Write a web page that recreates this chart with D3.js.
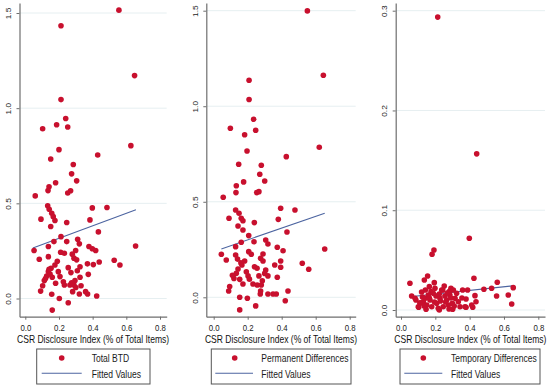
<!DOCTYPE html>
<html>
<head>
<meta charset="utf-8">
<script src="https://cdn.jsdelivr.net/npm/d3@7"></script>
<style>
  html, body { margin: 0; padding: 0; background: #fff; }
  svg { display: block; }
  text { font-family: "Liberation Sans", Arial, Helvetica, sans-serif; }
</style>
</head>
<body>
<svg id="chart" width="550" height="387"></svg>
<script>
// ---------------- DATA ----------------
const xTickValues = [0, 0.2, 0.4, 0.6, 0.8];
const yTickValues12 = [0, 0.5, 1.0, 1.5];
const yTickValues3 = [0, 0.1, 0.2, 0.3];
const xAxisTitle = "CSR Disclosure Index (% of Total Items)";
const seriesNames = ["Total BTD", "Permanent Differences", "Temporary Differences"];
const fitName = "Fitted Values";

// Panel 1: Total BTD
const totalX = [0.556,0.212,0.649,0.212,0.240,0.186,0.252,0.103,0.627,0.200,0.430,0.151,0.285,0.275,0.305,0.180,0.141,0.135,0.269,0.252,
  0.059,0.133,0.142,0.398,0.485,0.157,0.166,0.093,0.176,0.384,0.246,0.151,0.434,0.212,0.311,0.170,0.246,0.321,0.137,0.378,
  0.398,0.418,0.655,0.052,0.210,0.232,0.299,0.279,0.137,0.289,0.083,0.305,0.528,0.439,0.190,0.562,0.369,0.404,0.325,0.176,
  0.153,0.255,0.137,0.309,0.196,0.271,0.374,0.127,0.160,0.206,0.325,0.113,0.295,0.180,0.103,0.232,0.265,0.289,0.331,0.091,
  0.281,0.358,0.370,0.321,0.157,0.424,0.202,0.255,0.160,0.141,0.226,0.275,0.300,0.147,0.120];
const totalY = [1.515,1.433,1.171,1.045,0.946,0.913,0.901,0.892,0.803,0.782,0.754,0.733,0.704,0.655,0.618,0.608,0.587,0.567,0.566,0.554,
  0.539,0.487,0.469,0.476,0.478,0.448,0.430,0.417,0.410,0.413,0.399,0.378,0.350,0.325,0.311,0.299,0.299,0.287,0.273,0.273,
  0.261,0.252,0.276,0.252,0.243,0.238,0.252,0.233,0.220,0.212,0.206,0.203,0.201,0.192,0.196,0.176,0.182,0.178,0.167,0.176,
  0.159,0.162,0.141,0.146,0.141,0.136,0.127,0.118,0.112,0.115,0.112,0.094,0.094,0.080,0.067,0.071,0.071,0.071,0.067,0.039,
  0.036,0.036,0.024,0.024,0.022,0.013,0.000,-0.022,-0.061,0.154,0.088,0.083,0.058,0.128,0.105];
const totalFitX = [0.045, 0.657];
const totalFitY = [0.265, 0.466];

// Panel 2: Permanent Differences
const permX = [0.551,0.645,0.208,0.208,0.235,0.098,0.247,0.182,0.621,0.196,0.427,0.147,0.280,0.271,0.300,0.176,0.133,0.131,0.253,0.266,
  0.056,0.129,0.149,0.394,0.478,0.090,0.162,0.172,0.380,0.239,0.143,0.172,0.431,0.206,0.306,0.237,0.162,0.319,0.129,0.374,
  0.408,0.653,0.045,0.206,0.221,0.290,0.129,0.074,0.276,0.290,0.394,0.182,0.521,0.359,0.394,0.166,0.255,0.559,0.143,0.306,
  0.300,0.133,0.192,0.319,0.374,0.266,0.119,0.153,0.202,0.286,0.094,0.231,0.256,0.280,0.172,0.088,0.276,0.437,0.274,0.319,
  0.349,0.368,0.153,0.198,0.421,0.247,0.153,0.110,0.160,0.210,0.240,0.140];
const permY = [1.499,1.162,1.136,1.035,0.932,0.885,0.874,0.851,0.785,0.766,0.736,0.696,0.691,0.644,0.609,0.604,0.584,0.548,0.548,0.553,
  0.524,0.457,0.440,0.466,0.457,0.414,0.414,0.401,0.408,0.391,0.373,0.352,0.342,0.323,0.300,0.291,0.288,0.279,0.265,0.262,
  0.244,0.253,0.225,0.239,0.225,0.227,0.221,0.195,0.204,0.190,0.190,0.190,0.178,0.169,0.157,0.169,0.152,0.147,0.148,0.143,
  0.125,0.126,0.134,0.112,0.105,0.112,0.099,0.094,0.112,0.087,0.056,0.070,0.064,0.064,0.070,0.033,0.033,0.033,0.017,0.017,
  0.017,0.017,0.000,-0.005,-0.018,-0.045,-0.066,0.115,0.180,0.095,0.160,0.200];
const permFitX = [0.045, 0.653];
const permFitY = [0.253, 0.440];

// Panel 3: Temporary Differences
const tempX = [0.214,0.441,0.398,0.192,0.181,0.052,0.425,0.561,0.528,0.483,0.654,0.557,0.625,0.645,0.431,0.062,0.155,0.136,0.194,0.252,
  0.243,0.165,0.142,0.175,0.291,0.281,0.359,0.388,0.379,0.437,0.223,0.204,0.087,0.111,0.103,0.146,0.223,0.301,0.418,0.379,
  0.082,0.130,0.150,0.169,0.188,0.208,0.227,0.246,0.266,0.285,0.299,0.315,0.276,0.334,0.373,0.412,0.179,0.101,0.140,0.198,
  0.237,0.305,0.159,0.256,0.324,0.111,0.217,0.344,0.120,0.260,0.290,0.195,0.125,0.230,0.270,0.310,0.165,0.355,0.135,0.280];
const tempY = [0.2936,0.1565,0.0719,0.0602,0.0559,0.0268,0.0318,0.0278,0.0218,0.0208,0.0224,0.0140,0.0150,0.0060,0.0144,0.0140,0.0341,0.0301,0.0274,0.0241,
  0.0201,0.0234,0.0201,0.0184,0.0218,0.0184,0.0201,0.0201,0.0110,0.0083,0.0160,0.0140,0.0100,0.0073,0.0027,0.0007,0.0000,0.0007,0.0027,0.0027,
  0.0117,0.0083,0.0050,0.0100,0.0167,0.0067,0.0117,0.0033,0.0100,0.0150,0.0067,0.0117,0.0050,0.0083,0.0033,0.0050,0.0033,0.0033,0.0117,0.0218,
  0.0200,0.0200,0.0150,0.0140,0.0167,0.0067,0.0017,0.0033,0.0180,0.0080,0.0120,0.0080,0.0130,0.0090,0.0170,0.0040,0.0120,0.0120,0.0040,0.0010];
const tempFitX = [0.052, 0.660];
const tempFitY = [0.0133, 0.0244];

// ---------------- LAYOUT ----------------
const panels = [
  { xs: totalX, ys: totalY, fx: totalFitX, fy: totalFitY, name: seriesNames[0], yTicks: yTickValues12,
    axisX: 19.5, right: 166.7, x0px: 25.3, x8px: 160.0, y0px: 298.5, yTopTickPx: 13.0,
    legX: 36.7, legW: 113.3, dotDx: 25, lineDx: [5, 45], textDx: 55 },
  { xs: permX, ys: permY, fx: permFitX, fy: permFitY, name: seriesNames[1], yTicks: yTickValues12,
    axisX: 206.3, right: 355.7, x0px: 213.7, x8px: 349.7, y0px: 297.3, yTopTickPx: 10.7,
    legX: 211.3, legW: 139.7, dotDx: 23.4, lineDx: [4, 41.7], textDx: 50 },
  { xs: tempX, ys: tempY, fx: tempFitX, fy: tempFitY, name: seriesNames[2], yTicks: yTickValues3,
    axisX: 395.7, right: 545.0, x0px: 401.0, x8px: 538.3, y0px: 310.0, yTopTickPx: 10.7,
    legX: 400.0, legW: 140.0, dotDx: 23.3, lineDx: [4.3, 42.3], textDx: 51 }
];
const plotTop = 3, plotBottom = 316.7;
const dotColor = "#c8102e", fitColor = "#4c64a0", axisColor = "#6e6e6e", gridColor = "#e6eff1", textColor = "#1a1a1a";

const svg = d3.select("#chart");

panels.forEach(p => {
  const g = svg.append("g");
  const xs0 = d3.scaleLinear().domain([0, 0.8]).range([p.x0px, p.x8px]);
  const x = d3.scaleLinear().domain([xs0.invert(p.axisX), xs0.invert(p.right)]).range([p.axisX, p.right]);
  const yTop = p.yTicks[p.yTicks.length - 1];
  const ys0 = d3.scaleLinear().domain([0, yTop]).range([p.y0px, p.yTopTickPx]);
  const y = d3.scaleLinear().domain([ys0.invert(plotBottom), ys0.invert(plotTop)]).range([plotBottom, plotTop]);

  // gridlines
  g.append("g").selectAll("line").data(p.yTicks).join("line")
    .attr("x1", p.axisX).attr("x2", p.right)
    .attr("y1", d => y(d)).attr("y2", d => y(d))
    .attr("stroke", gridColor).attr("stroke-width", 1);

  // y axis
  const yAxis = g.append("g").attr("transform", `translate(${p.axisX},0)`)
    .call(d3.axisLeft(y).tickValues(p.yTicks).tickFormat(d3.format(".1f")).tickSize(3).tickSizeOuter(0));
  yAxis.select(".domain").attr("stroke", axisColor).attr("stroke-width", 1.2);
  yAxis.selectAll(".tick line").attr("stroke", axisColor).attr("stroke-width", 1);
  yAxis.selectAll(".tick text")
    .attr("x", null).attr("dy", null).attr("text-anchor", "middle")
    .attr("transform", "translate(-8.5,0) scale(0.83,1) rotate(-90)")
    .attr("fill", textColor).style("font-size", "8.4px");

  // x axis
  const xAxis = g.append("g").attr("transform", `translate(0,${plotBottom})`)
    .call(d3.axisBottom(x).tickValues(xTickValues).tickFormat(d3.format(".1f")).tickSize(3).tickSizeOuter(0));
  xAxis.select(".domain").attr("stroke", axisColor).attr("stroke-width", 1.2);
  xAxis.selectAll(".tick line").attr("stroke", axisColor).attr("stroke-width", 1);
  xAxis.selectAll(".tick text")
    .attr("y", null).attr("dy", null).attr("text-anchor", "middle")
    .attr("transform", "translate(0,13.8) scale(0.85,1)")
    .attr("fill", textColor).style("font-size", "9.2px");

  // axis title
  const cx = (p.axisX + p.right) / 2;
  g.append("text").attr("transform", `translate(${cx},342.6) scale(0.83,1)`)
    .attr("text-anchor", "middle").attr("fill", "#111").style("font-size", "10.3px")
    .text(xAxisTitle);

  // fitted line
  const fitPts = p.fx.map((v, i) => [v, p.fy[i]]);
  g.append("path").datum(fitPts)
    .attr("d", d3.line().x(d => x(d[0])).y(d => y(d[1])))
    .attr("fill", "none").attr("stroke", fitColor).attr("stroke-width", 1.1);

  // points
  const pts = p.xs.map((v, i) => [v, p.ys[i]]);
  g.append("g").selectAll("circle").data(pts).join("circle")
    .attr("cx", d => x(d[0])).attr("cy", d => y(d[1])).attr("r", 2.8)
    .attr("fill", dotColor);

  // legend
  const lg = g.append("g").attr("transform", `translate(${p.legX},349)`);
  lg.append("rect").attr("x", 0).attr("y", 0).attr("width", p.legW).attr("height", 35)
    .attr("fill", "#fff").attr("stroke", "#555").attr("stroke-width", 1);
  lg.append("circle").attr("cx", p.dotDx).attr("cy", 9).attr("r", 2.8).attr("fill", dotColor);
  lg.append("line").attr("x1", p.lineDx[0]).attr("x2", p.lineDx[1]).attr("y1", 24.3).attr("y2", 24.3)
    .attr("stroke", fitColor).attr("stroke-width", 1.1);
  lg.append("text").attr("transform", `translate(${p.textDx},13.3) scale(0.83,1)`)
    .attr("fill", "#1a1a1a").style("font-size", "10.3px").text(p.name);
  lg.append("text").attr("transform", `translate(${p.textDx},28.7) scale(0.83,1)`)
    .attr("fill", "#1a1a1a").style("font-size", "10.3px").text(fitName);
});
</script>
</body>
</html>
